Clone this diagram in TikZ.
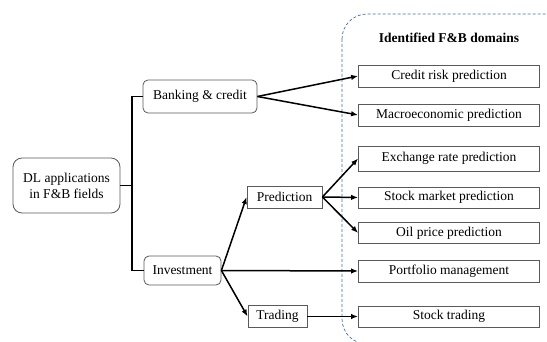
\documentclass[tikz,border=0pt]{standalone}
\usepackage{fontspec}
\setmainfont{Liberation Serif}
\usetikzlibrary{arrows.meta}
\definecolor{boxgray}{RGB}{90,90,90}
\definecolor{dashblue}{RGB}{70,110,170}
\begin{document}
\begin{tikzpicture}[x=1pt,y=-1pt,
  every node/.style={font=\fontsize{13.5}{16}\selectfont, inner sep=0pt, align=center},
  rbox/.style={draw=boxgray, line width=0.8pt, rounded corners=5pt, fill=white},
  sbox/.style={draw=boxgray, line width=0.8pt, fill=white},
  dom/.style={sbox, minimum width=181pt},
  conn/.style={line width=1.5pt, black},
  arr/.style={conn, -{Latex[length=7pt,width=5.5pt]}}
]
\useasboundingbox (0,0) rectangle (547,342);
\begin{scope}
\clip (0,0) rectangle (547,342);
\draw[dashblue, line width=0.7pt, dash pattern=on 3pt off 2pt, rounded corners=25pt] (342,14) rectangle (575,344);
\end{scope}
\node[font=\fontsize{13.5}{16}\selectfont\bfseries] (title) at (449,38) {Identified F\&B domains};

\node[rbox, minimum width=107pt, minimum height=55pt, rounded corners=9pt] (dl) at (66.5,185.5) {DL applications\\in F\&B fields};
\node[rbox, minimum width=114pt, minimum height=33pt] (bank) at (200,96.5) {Banking \& credit};
\node[rbox, minimum width=77pt, minimum height=29pt] (inv) at (182.5,270.5) {Investment};
\node[sbox, minimum width=75pt, minimum height=22pt] (pred) at (284.5,197) {Prediction};
\node[sbox, minimum width=59pt, minimum height=22pt] (trad) at (277.5,316.5) {Trading};

\node[dom, minimum height=22pt] (cr) at (449,76) {Credit risk prediction};
\node[dom, minimum height=22pt] (ma) at (449,115) {Macroeconomic prediction};
\node[dom, minimum height=25pt] (ex) at (449,158.5) {Exchange rate prediction};
\node[dom, minimum height=21pt] (sm) at (449,197.5) {Stock market prediction};
\node[dom, minimum height=21pt] (oil) at (449,233) {Oil price prediction};
\node[dom, minimum height=22pt] (pf) at (449,271) {Portfolio management};
\node[dom, minimum height=21pt] (st) at (449,316.5) {Stock trading};

\coordinate (br) at (132,185.5);
\draw[conn] (bank.west) -| (br) |- (inv.west);
\draw[conn] (dl.east) -- (br);

\draw[arr] (bank.east) -- (cr.west);
\draw[arr] (bank.east) -- (ma.west);
\draw[arr] (pred.east) -- (ex.west);
\draw[arr] (pred.east) -- (sm.west);
\draw[arr] (pred.east) -- (oil.west);
\draw[arr] (inv.east) -- (pred.west);
\draw[arr] (inv.east) -- (pf.west);
\draw[arr] (inv.east) -- (trad.west);
\draw[arr] (trad.east) -- (st.west);
\end{tikzpicture}
\end{document}
